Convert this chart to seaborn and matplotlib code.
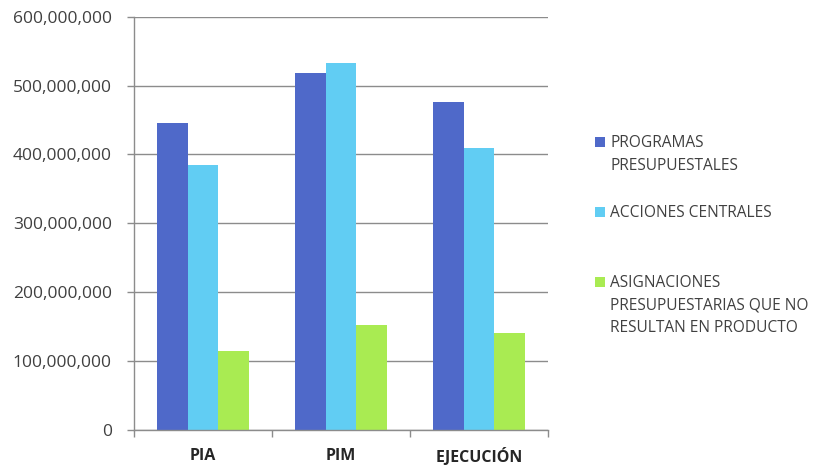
import matplotlib
matplotlib.use("Agg")
import matplotlib.pyplot as plt
import seaborn as sns
import pandas as pd
from matplotlib.patches import Rectangle
from matplotlib.ticker import FuncFormatter, FixedLocator

categories = ["PIA", "PIM", "EJECUCIÓN"]
series_names = ["PROGRAMAS PRESUPUESTALES", "ACCIONES CENTRALES",
                "ASIGNACIONES PRESUPUESTARIAS QUE NO RESULTAN EN PRODUCTO"]
legend_labels = ["PROGRAMAS\nPRESUPUESTALES", "ACCIONES CENTRALES",
                 "ASIGNACIONES\nPRESUPUESTARIAS QUE NO\nRESULTAN EN PRODUCTO"]
programas = [445_000_000, 518_000_000, 476_000_000]
acciones = [384_000_000, 533_000_000, 410_000_000]
asignaciones = [115_000_000, 152_000_000, 141_000_000]
colors = ["#4F69C9", "#61CDF3", "#A9EB52"]
y_ticks = [0, 100_000_000, 200_000_000, 300_000_000, 400_000_000, 500_000_000, 600_000_000]

rows = []
for name, vals in zip(series_names, [programas, acciones, asignaciones]):
    for c, v in zip(categories, vals):
        rows.append({"cat": c, "serie": name, "valor": v})
df = pd.DataFrame(rows)

sns.set_style("white")
plt.rcParams["font.family"] = ["Open Sans", "DejaVu Sans"]

fig = plt.figure(figsize=(8.15, 4.65), dpi=100)
ax = fig.add_axes([134 / 815, 35 / 465, 414 / 815, (430 - 16.7) / 465])

sns.barplot(data=df, x="cat", y="valor", hue="serie", order=categories,
            hue_order=series_names, palette=colors, width=0.667,
            saturation=1, ax=ax, legend=False, edgecolor="none", linewidth=0)

ax.set_ylim(0, 600_000_000)
ax.set_xlim(-0.5, 2.5)
ax.yaxis.set_major_locator(FixedLocator(y_ticks))
ax.yaxis.set_major_formatter(FuncFormatter(lambda v, p: f"{int(v):,}"))
ax.grid(axis="y", color="#8C8C8C", linewidth=1.0)
ax.set_axisbelow(True)
ax.set_xlabel("")
ax.set_ylabel("")

for s in ["top", "right"]:
    ax.spines[s].set_visible(False)
for s in ["left", "bottom"]:
    ax.spines[s].set_color("#8C8C8C")
    ax.spines[s].set_linewidth(1.0)

ax.tick_params(axis="y", which="major", length=5, width=1, color="#8C8C8C",
               labelsize=12.5, labelcolor="#404040", pad=11, left=True)
ax.set_xticks([0, 1, 2])
ax.set_xticklabels(categories, fontweight="bold", fontsize=11.5, color="#262626")
ax.tick_params(axis="x", which="major", length=0, pad=13)
ax.set_xticks([-0.5, 0.5, 1.5, 2.5], minor=True)
ax.tick_params(axis="x", which="minor", length=5, width=1, color="#8C8C8C", bottom=True)

# legend drawn in figure pixel coordinates
entries_y = [142, 212, 282]
for lab, col, y in zip(legend_labels, colors, entries_y):
    fig.patches.append(Rectangle((595 / 815, 1 - (y + 5) / 465), 10 / 815, 10 / 465,
                                 transform=fig.transFigure, facecolor=col,
                                 edgecolor="none"))
    fig.text(610 / 815, 1 - (y - 7) / 465, lab, fontsize=11.2, color="#404040",
             va="top", ha="left", linespacing=1.55)

fig.savefig("out.png", dpi=100)
